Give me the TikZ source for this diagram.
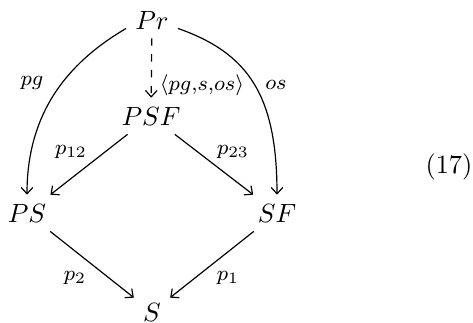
\documentclass[tikz,border=0pt]{standalone}
\usetikzlibrary{arrows.meta}
\tikzset{
  obj/.style={inner sep=3.33pt},
  lbl/.style={inner sep=0pt, font=\fontsize{8}{10}\selectfont},
  arr/.style={-{Straight Barb[length=2.4pt,width=4.4pt]}, line width=0.45pt},
  darr/.style={arr, dash pattern=on 2.8pt off 3.2pt}
}
\begin{document}
\begin{tikzpicture}[x=0.379pt,y=-0.379pt]
\useasboundingbox (0,0) rectangle (473,323);
\node[obj] (Pr) at (152,20) {$Pr$};
\node[obj] (PSF) at (151,116) {$PSF$};
\node[obj] (PS) at (27,213) {$PS$};
\node[obj] (SF) at (277,213) {$SF$};
\node[obj] (S) at (152,312) {$S$};
\node[lbl] (eq) at (449,167) {\fontsize{10}{12}\selectfont(17)};
\node[lbl] (lpg) at (32,83) {$pg$};
\node[lbl] (ltuple) at (202,85) {$\langle pg{,}s{,}os\rangle$};
\node[lbl] (los) at (276,85) {$os$};
\node[lbl] (l12) at (71,152) {$p_{12}$};
\node[lbl] (l23) at (233,152) {$p_{23}$};
\node[lbl] (l2) at (75,278) {$p_{2}$};
\node[lbl] (l1) at (228,278) {$p_{1}$};
\draw[darr] (Pr) -- (PSF);
\draw[arr] (Pr.198) .. controls (76,58) and (27,105) .. (PS.north);
\draw[arr] (Pr.-18) .. controls (248,53) and (277,95) .. (SF.north);
\draw[arr] (PSF) -- (PS);
\draw[arr] (PSF) -- (SF);
\draw[arr] (PS) -- (S);
\draw[arr] (SF) -- (S);
\end{tikzpicture}
\end{document}
